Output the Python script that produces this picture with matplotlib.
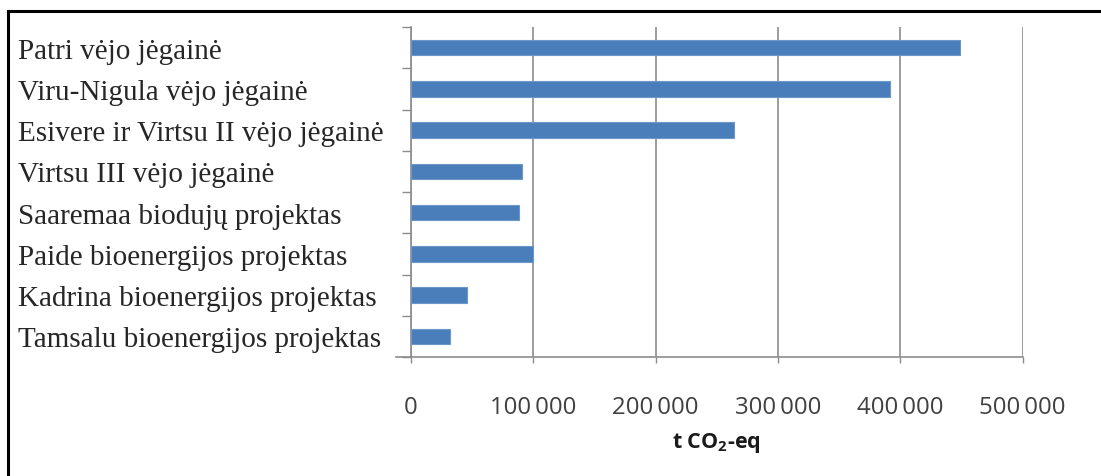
import matplotlib
matplotlib.use("Agg")
import matplotlib.pyplot as plt
from matplotlib.ticker import FuncFormatter
from matplotlib.lines import Line2D

# Emission reductions per project, tonnes CO2-equivalent
projects = [
    "Patri vėjo jėgainė",
    "Viru-Nigula vėjo jėgainė",
    "Esivere ir Virtsu II vėjo jėgainė",
    "Virtsu III vėjo jėgainė",
    "Saaremaa biodujų projektas",
    "Paide bioenergijos projektas",
    "Kadrina bioenergijos projektas",
    "Tamsalu bioenergijos projektas",
]
reductions = [449000, 392000, 264000, 90500, 88000, 100000, 45500, 32000]
x_ticks = [0, 100000, 200000, 300000, 400000, 500000]

plt.rcParams["mathtext.fontset"] = "custom"
plt.rcParams["mathtext.rm"] = "Open Sans:bold"
plt.rcParams["mathtext.bf"] = "Open Sans:bold"

W, H, DPI = 1101, 477, 100
fig = plt.figure(figsize=(W / DPI, H / DPI), dpi=DPI)
ax = fig.add_axes([411 / W, 1 - 358 / H, (1022.5 - 411) / W, (358 - 28) / H])

bar_color = "#4a7ebb"
y = list(range(len(projects)))
ax.barh(y, reductions, height=0.37, color=bar_color, edgecolor="#6d96c9",
        linewidth=0.8, zorder=3)

ax.set_xlim(0, 500000)
ax.set_ylim(len(projects) - 0.5, -0.5)

axis_gray = "#8c8c8c"
ax.set_xticks(x_ticks)
ax.xaxis.set_major_formatter(FuncFormatter(lambda v, p: f"{int(v):,}".replace(",", "\u2009")))
ax.grid(axis="x", color=axis_gray, linewidth=1.2, zorder=0)

# category boundaries carry the small ticks; labels sit at bar centres
ax.set_yticks([i - 0.5 for i in range(len(projects) + 1)])
ax.set_yticklabels([])
ax.set_yticks(y, minor=True)
ax.set_yticklabels(projects, minor=True, fontsize=21, family="Liberation Serif",
                   color="#262626", ha="left")
ax.tick_params(axis="y", which="major", length=6.5, width=1.0, color=axis_gray)
ax.tick_params(axis="y", which="minor", length=0, pad=(411 - 18) * 0.72)
ax.tick_params(axis="x", which="major", length=4.5, width=1.0, color=axis_gray,
               labelsize=17.3, labelcolor="#404040", pad=23)
for lab in ax.get_xticklabels():
    lab.set_family("Open Sans")

for side in ("top", "right"):
    ax.spines[side].set_visible(False)
for side in ("left", "bottom"):
    ax.spines[side].set_color(axis_gray)
    ax.spines[side].set_linewidth(1.2)
ax.spines["bottom"].set_bounds(-12000, 500000)
ax.spines["bottom"].set_zorder(4)

ax.set_xlabel(r"t CO$_\mathbf{2}$-eq", fontsize=15.5, fontweight="bold",
              family="Open Sans", color="#1a1a1a", labelpad=7.5)

# frame lines along the top and left edges
fig.add_artist(Line2D([8 / W, 1], [1 - 12 / H, 1 - 12 / H], color="black",
                      linewidth=2.2, transform=fig.transFigure))
fig.add_artist(Line2D([8 / W, 8 / W], [0, 1 - 12 / H], color="black",
                      linewidth=2.2, transform=fig.transFigure))

fig.savefig("out.png", dpi=DPI, facecolor="white")
